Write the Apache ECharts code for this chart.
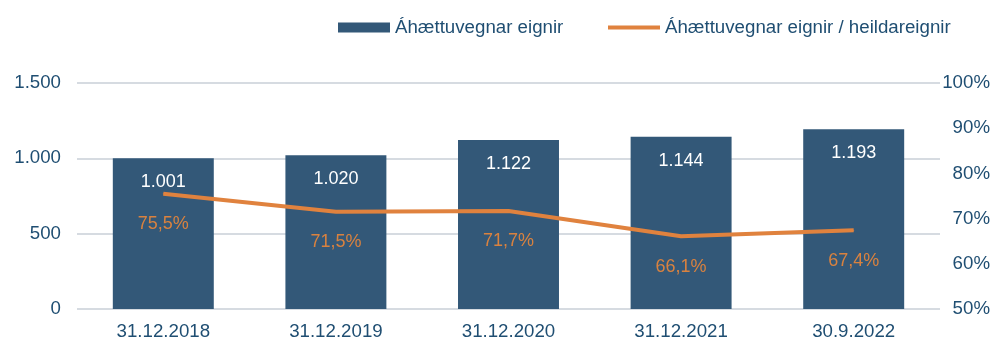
<!DOCTYPE html>
<html>
<head>
<meta charset="utf-8">
<script src="https://cdn.jsdelivr.net/npm/echarts@6/dist/echarts.min.js"></script>
<style>
  html, body { margin: 0; padding: 0; background: #ffffff; }
  #chart { width: 995px; height: 341px; }
</style>
</head>
<body>
<div id="chart"></div>
<script>
// Categories (reporting dates)
const categories = ['31.12.2018', '31.12.2019', '31.12.2020', '31.12.2021', '30.9.2022'];
// Risk-weighted assets
const riskWeighted = [1001, 1020, 1122, 1144, 1193];
// Risk-weighted assets / total assets, in percent
const ratioPct = [75.5, 71.5, 71.7, 66.1, 67.4];

const barName = 'Áhættuvegnar eignir';
const lineName = 'Áhættuvegnar eignir / heildareignir';

const textColor = '#1f4e72';
const barColor = '#335878';
const lineColor = '#e0823e';
const FONT = 'Liberation Sans, Arial, sans-serif';
const AXIS_FS = 18.7;

const fmtThousands = v => String(v).replace(/\B(?=(\d{3})+(?!\d))/g, '.');
const fmtPct = v => v.toFixed(1).replace('.', ',') + '%';

const chart = echarts.init(document.getElementById('chart'), null, { renderer: 'canvas' });

chart.setOption({
  animation: false,
  textStyle: { fontFamily: FONT },
  legend: [
    {
      data: [{ name: barName, icon: 'rect' }],
      left: 333, top: 13,
      itemWidth: 52, itemHeight: 10,
      textStyle: { color: textColor, fontSize: AXIS_FS, fontFamily: FONT }
    },
    {
      data: [{ name: lineName, icon: 'rect' }],
      left: 603, top: 13,
      itemWidth: 52, itemHeight: 4,
      textStyle: { color: textColor, fontSize: AXIS_FS, fontFamily: FONT }
    }
  ],
  grid: { left: 77, right: 55, top: 83, bottom: 31, containLabel: false },
  xAxis: {
    type: 'category',
    data: categories,
    axisLine: { show: false },
    axisTick: { show: false },
    axisLabel: { color: textColor, fontSize: AXIS_FS, margin: 13, fontFamily: FONT }
  },
  yAxis: [
    {
      type: 'value', min: 0, max: 1500, interval: 500,
      axisLine: { show: false }, axisTick: { show: false },
      splitLine: { lineStyle: { color: '#d6dbe1', width: 2 } },
      axisLabel: { color: textColor, fontSize: AXIS_FS, margin: 16, fontFamily: FONT, formatter: fmtThousands }
    },
    {
      type: 'value', min: 50, max: 100, interval: 10,
      axisLine: { show: false }, axisTick: { show: false },
      splitLine: { show: false },
      axisLabel: { color: textColor, fontSize: AXIS_FS, margin: 50, align: 'right', fontFamily: FONT, formatter: v => v + '%' }
    }
  ],
  series: [
    {
      name: barName,
      type: 'bar',
      data: riskWeighted,
      barWidth: '58.5%',
      itemStyle: { color: barColor },
      label: {
        show: true, position: 'insideTop', distance: 15,
        color: '#ffffff', fontSize: 18, fontFamily: FONT,
        formatter: p => fmtThousands(p.value)
      },
      z: 2
    },
    {
      name: lineName,
      type: 'line',
      yAxisIndex: 1,
      data: ratioPct,
      symbol: 'circle',
      symbolSize: 1,
      showSymbol: true,
      lineStyle: { color: lineColor, width: 4 },
      itemStyle: { color: lineColor },
      label: {
        show: true, position: 'bottom', distance: 21,
        color: '#d9823f', fontSize: 18, fontFamily: FONT,
        formatter: p => fmtPct(p.value)
      },
      z: 3
    }
  ]
});
</script>
</body>
</html>
